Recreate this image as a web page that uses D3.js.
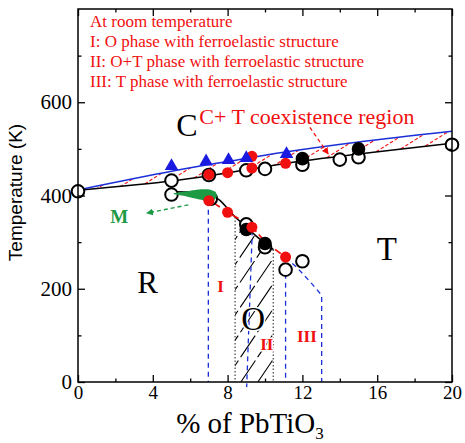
<!DOCTYPE html>
<html>
<head>
<meta charset="utf-8">
<script src="https://d3js.org/d3.v7.min.js"></script>
<style>
  body { margin: 0; background: #fff; }
  svg { display: block; }
  .axis text { font-family: "Liberation Serif", serif; fill: #000; }
  .x-axis text { font-size: 19px; }
  .y-axis text { font-size: 21px; }
  .axis path, .axis line { stroke: #000; stroke-width: 1.3; }
</style>
</head>
<body>
<div id="chart"></div>
<script>
// x = % of PbTiO3, y = temperature (K)
var upperX = [0, 5, 8, 11, 15, 20];            // C / C+T boundary (blue)
var upperT = [412, 452, 473, 493, 515, 538];
var lowerX = [0, 5, 7, 9, 12, 15, 20];          // C+T / ferroelectric boundary (black)
var lowerT = [411, 431, 442, 455, 474, 489, 512];
var rtX = [5, 6, 7, 7.5, 8, 8.4, 9, 9.5, 10, 10.45];   // R -> T boundary (black)
var rtT = [408, 407, 401, 392, 372, 354, 333, 314, 298, 284];
var redX = [5, 6, 7, 8, 9.3, 10, 11.1, 11.5];          // red dashed boundary
var redT = [405, 400, 389, 364, 332, 302, 268, 258];
var tailX = [11.1, 11.7, 12.5, 13.03, 13.03];           // blue dashed continuation
var tailT = [267, 246, 211, 186, 0];

// blue dashed drops (room temperature limits)
var dropX1 = [6.97, 9.32, 11.1];
var dropT1 = [389, 325, 232];
var dropX2 = [6.97, 9.02, 11.1];
var dropT2 = [0, -11, 0];
// dotted limits of the O region
var dotX = [8.4, 10.44];
var dotT = [354, 284];

// green M region
var mX = [5.1, 5.8, 6.5, 7.0, 7.35, 7.42, 7.2, 6.8, 6.2, 5.6];
var mT = [404, 409, 413, 413, 408, 398, 387, 389, 394, 400];

// measured points
var openX = [0, 5, 5, 7, 9, 10, 12, 14, 15, 20, 7.1, 9, 10, 11.1, 12];
var openT = [409, 432, 402, 444, 454, 457, 466, 477, 482, 509, 393, 338, 289, 241, 259];
var fullX = [12, 15, 9, 10];
var fullT = [479, 500, 327, 297];
var redDotX = [7, 8, 9.3, 9.3, 11.1, 7, 8, 9.3, 11.1];
var redDotT = [445, 449, 484, 459, 469, 389, 364, 332, 268];
var triX = [5, 6.85, 8.05, 9, 11.15];
var triT = [463, 473, 476, 480, 489];

var xMajor = [0, 4, 8, 12, 16, 20];
var xMinor = [2, 6, 10, 14, 18];
var yMajor = [0, 200, 400, 600];
var yMinor = [100, 300, 500, 700];

var notes = ["At room temperature",
             "I: O phase with ferroelastic structure",
             "II: O+T phase with ferroelastic structure",
             "III: T phase with ferroelastic structure"];

var margin = { top: 9, left: 78, right: 13, bottom: 61 },
    width = 465 - margin.left - margin.right,
    height = 443 - margin.top - margin.bottom;

var root = d3.select("#chart").append("svg")
    .attr("width", 465)
    .attr("height", 443);

var defs = root.append("defs");

var svg = root.append("g")
    .attr("transform", "translate(" + margin.left + "," + margin.top + ")");

var x = d3.scaleLinear().domain([0, 20]).range([0, width]);
var y = d3.scaleLinear().domain([0, 800]).range([height, 0]);

function pts(xs, ts) {
  return xs.map(function(d, i) { return [x(d), y(ts[i])]; });
}

var smooth = d3.line().curve(d3.curveCatmullRom.alpha(0.5));
var straight = d3.line();

// draws parallel hatch lines clipped to a path
function hatch(id, d, x0, x1, yBottom, yTop, step, angle, color, dash) {
  defs.append("clipPath").attr("id", id).append("path").attr("d", d);
  var g = svg.append("g").attr("clip-path", "url(#" + id + ")");
  var rise = yBottom - yTop;
  var run = rise / Math.tan(angle * Math.PI / 180);
  var starts = d3.range(x0 - run, x1 + step, step);
  g.selectAll("line")
      .data(starts)
      .enter().append("line")
      .attr("x1", function(s) { return s; })
      .attr("y1", yBottom)
      .attr("x2", function(s) { return s + run; })
      .attr("y2", yTop)
      .attr("stroke", color)
      .attr("stroke-width", 1.1)
      .attr("stroke-dasharray", dash);
}

// C+T coexistence band
var upperPts = pts(upperX, upperT);
var lowerPts = pts(lowerX, lowerT);
var bandPath = smooth(upperPts) + smooth(lowerPts.slice().reverse()).replace(/^M/, "L") + "Z";
hatch("bandClip", bandPath, x(0), x(20), y(400), y(550), 20, 32, "#f01010", "3.5,2");

// O region hatch
var oPts = [[x(dotX[0]), y(0)]];
rtX.forEach(function(d, i) {
  if (d >= dotX[0] - 0.01) oPts.push([x(d), y(rtT[i])]);
});
oPts.push([x(dotX[1]), y(0)]);
hatch("oClip", straight(oPts) + "Z", x(dotX[0]), x(dotX[1]), y(0), y(360), 17, 56, "#000", "26,4");

// dotted O region limits
svg.selectAll(".dot-limit")
    .data(dotX)
    .enter().append("line")
    .attr("class", "dot-limit")
    .attr("x1", function(d) { return x(d); })
    .attr("x2", function(d) { return x(d); })
    .attr("y1", function(d, i) { return y(dotT[i]); })
    .attr("y2", y(0))
    .attr("stroke", "#333")
    .attr("stroke-width", 1.1)
    .attr("stroke-dasharray", "1.5,2");

// blue dashed drops
svg.selectAll(".drop")
    .data(dropX1)
    .enter().append("line")
    .attr("class", "drop")
    .attr("x1", function(d) { return x(d); })
    .attr("y1", function(d, i) { return y(dropT1[i]); })
    .attr("x2", function(d, i) { return x(dropX2[i]); })
    .attr("y2", function(d, i) { return y(dropT2[i]); })
    .attr("stroke", "#1a2fd8")
    .attr("stroke-width", 1.3)
    .attr("stroke-dasharray", "5,4");

svg.append("path")
    .attr("d", straight(pts(tailX, tailT)))
    .attr("fill", "none")
    .attr("stroke", "#1a2fd8")
    .attr("stroke-width", 1.3)
    .attr("stroke-dasharray", "5,4");

// boundaries
svg.append("path")
    .attr("d", smooth(lowerPts))
    .attr("fill", "none")
    .attr("stroke", "#000")
    .attr("stroke-width", 1.5);

svg.append("path")
    .attr("d", smooth(upperPts))
    .attr("fill", "none")
    .attr("stroke", "#1a2fd8")
    .attr("stroke-width", 1.5);

svg.append("path")
    .attr("d", smooth(pts(rtX, rtT)))
    .attr("fill", "none")
    .attr("stroke", "#000")
    .attr("stroke-width", 1.5);

svg.append("path")
    .attr("d", smooth(pts(redX, redT)))
    .attr("fill", "none")
    .attr("stroke", "#f01010")
    .attr("stroke-width", 1.8)
    .attr("stroke-dasharray", "7,4");

// arrow markers
function marker(id, color) {
  defs.append("marker")
      .attr("id", id)
      .attr("viewBox", "0 0 10 10")
      .attr("refX", 9).attr("refY", 5)
      .attr("markerWidth", 7).attr("markerHeight", 7)
      .attr("markerUnits", "userSpaceOnUse")
      .attr("orient", "auto")
      .append("path")
      .attr("d", "M0,0L10,5L0,10Z")
      .attr("fill", color);
}
marker("arrowGreen", "#1e9a45");
marker("arrowRed", "#f01010");

svg.append("line")
    .attr("x1", x(5.9)).attr("y1", y(380))
    .attr("x2", x(3.68)).attr("y2", y(362))
    .attr("stroke", "#1e9a45")
    .attr("stroke-width", 1.4)
    .attr("stroke-dasharray", "4,3")
    .attr("marker-end", "url(#arrowGreen)");

svg.append("line")
    .attr("x1", x(12.4)).attr("y1", y(546))
    .attr("x2", x(13.38)).attr("y2", y(489))
    .attr("stroke", "#f01010")
    .attr("stroke-width", 1.3)
    .attr("stroke-dasharray", "4,3")
    .attr("marker-end", "url(#arrowRed)");

// points
svg.selectAll(".open")
    .data(openX)
    .enter().append("circle")
    .attr("class", "open")
    .attr("cx", function(d) { return x(d); })
    .attr("cy", function(d, i) { return y(openT[i]); })
    .attr("r", 6.3)
    .attr("fill", "#fff")
    .attr("stroke", "#000")
    .attr("stroke-width", 2);

svg.selectAll(".full")
    .data(fullX)
    .enter().append("circle")
    .attr("class", "full")
    .attr("cx", function(d) { return x(d); })
    .attr("cy", function(d, i) { return y(fullT[i]); })
    .attr("r", 6.8)
    .attr("fill", "#000");

// green M region sits over the circle at its end
svg.append("path")
    .attr("d", d3.line().curve(d3.curveCardinalClosed.tension(0.3))(pts(mX, mT)))
    .attr("fill", "#1e9a45");

svg.selectAll(".reddot")
    .data(redDotX)
    .enter().append("circle")
    .attr("class", "reddot")
    .attr("cx", function(d) { return x(d); })
    .attr("cy", function(d, i) { return y(redDotT[i]); })
    .attr("r", 5.5)
    .attr("fill", "#f01010");

svg.selectAll(".tri")
    .data(triX)
    .enter().append("path")
    .attr("class", "tri")
    .attr("d", d3.symbol().type(d3.symbolTriangle).size(80))
    .attr("transform", function(d, i) {
      return "translate(" + x(d) + "," + y(triT[i]) + ")";
    })
    .attr("fill", "#1a1ae0");

// axes, ticks pointing in on all four sides
function axisGroup(axis, cls, tr) {
  var g = svg.append("g").attr("class", "axis " + cls).attr("transform", tr).call(axis);
  g.select(".domain").remove();
  return g;
}
axisGroup(d3.axisBottom(x).tickValues(xMajor).tickSize(-7).tickPadding(4), "x-axis", "translate(0," + height + ")");
axisGroup(d3.axisBottom(x).tickValues(xMinor).tickSize(-3.5).tickFormat(""), "x-axis", "translate(0," + height + ")");
axisGroup(d3.axisTop(x).tickValues(xMajor).tickSize(-7).tickFormat(""), "x-axis", "translate(0,0)");
axisGroup(d3.axisTop(x).tickValues(xMinor).tickSize(-3.5).tickFormat(""), "x-axis", "translate(0,0)");
axisGroup(d3.axisLeft(y).tickValues(yMajor).tickSize(-7).tickPadding(6), "y-axis", "translate(0,0)");
axisGroup(d3.axisLeft(y).tickValues(yMinor).tickSize(-3.5).tickFormat(""), "y-axis", "translate(0,0)");
axisGroup(d3.axisRight(y).tickValues(yMajor).tickSize(-7).tickFormat(""), "y-axis", "translate(" + width + ",0)");
axisGroup(d3.axisRight(y).tickValues(yMinor).tickSize(-3.5).tickFormat(""), "y-axis", "translate(" + width + ",0)");

svg.append("rect")
    .attr("width", width)
    .attr("height", height)
    .attr("fill", "none")
    .attr("stroke", "#000")
    .attr("stroke-width", 1.5);

// axis titles
svg.append("text")
    .attr("transform", "translate(-56," + (height / 2 - 3) + ") rotate(-90)")
    .attr("text-anchor", "middle")
    .style("font-family", "'Liberation Sans', Arial, sans-serif")
    .style("font-size", "19px")
    .text("Temperature (K)");

var xt = svg.append("text")
    .attr("x", width / 2 - 15)
    .attr("y", height + 51)
    .attr("text-anchor", "middle")
    .style("font-family", "'Liberation Serif', serif")
    .style("font-size", "29px");
xt.append("tspan").text("% of PbTiO");
xt.append("tspan").attr("dy", 6).style("font-size", "17px").text("3");

// notes
svg.selectAll(".note")
    .data(notes)
    .enter().append("text")
    .attr("class", "note")
    .attr("x", 12)
    .attr("y", function(d, i) { return 18 + i * 20; })
    .style("font-family", "'Liberation Serif', serif")
    .style("font-size", "17px")
    .attr("fill", "#f01010")
    .text(function(d) { return d; });

// region labels
function label(txt, xv, tv, size, color, weight) {
  return svg.append("text")
      .attr("x", x(xv))
      .attr("y", y(tv))
      .style("font-family", "'Liberation Serif', serif")
      .style("font-size", size + "px")
      .style("font-weight", weight || "normal")
      .attr("fill", color)
      .text(txt);
}
label("C", 5.26, 528, 32, "#000");
label("C+ T coexistence region", 6.49, 554, 22, "#f01010");
label("R", 3.17, 190, 31, "#000");
label("T", 15.98, 261, 33, "#000");
label("M", 1.72, 342, 19, "#1e9a45", "bold");
label("I", 7.44, 192, 17, "#f01010", "bold");
label("O", 8.73, 111, 33, "#000")
    .attr("stroke", "#fff").attr("stroke-width", 3).style("paint-order", "stroke");
label("II", 9.74, 68, 17, "#f01010", "bold")
    .attr("stroke", "#fff").attr("stroke-width", 3).style("paint-order", "stroke");
label("III", 11.71, 85, 17, "#f01010", "bold");
</script>
</body>
</html>
